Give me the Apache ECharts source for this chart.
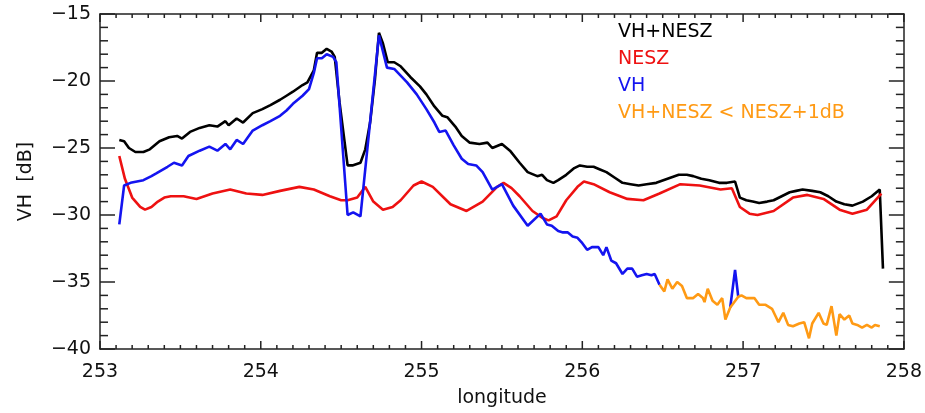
<!DOCTYPE html>
<html>
<head>
<meta charset="utf-8">
<script src="https://cdn.jsdelivr.net/npm/echarts@6/dist/echarts.min.js"></script>
<style>
html,body{margin:0;padding:0;background:#fff;}
#chart{width:925px;height:413px;}
</style>
</head>
<body>
<div id="chart"></div>
<script>
// Longitude ticks / dB ticks
const xTicks = [253, 254, 255, 256, 257, 258];
const yTicks = [-40, -35, -30, -25, -20, -15];

// Series names
const seriesNames = ['VH+NESZ', 'NESZ', 'VH', 'VH+NESZ < NESZ+1dB'];

// VH+NESZ (black) [longitude, dB]
const vhNesz = [
  [253.12,-24.4],[253.15,-24.5],[253.18,-25.0],[253.22,-25.3],[253.27,-25.3],[253.31,-25.1],
  [253.37,-24.5],[253.43,-24.2],[253.48,-24.1],[253.51,-24.3],[253.56,-23.8],[253.62,-23.5],
  [253.68,-23.3],[253.73,-23.4],[253.78,-23.0],[253.80,-23.3],[253.85,-22.8],[253.89,-23.1],
  [253.95,-22.4],[254.01,-22.1],[254.06,-21.8],[254.12,-21.4],[254.16,-21.1],[254.20,-20.8],
  [254.26,-20.3],[254.29,-20.1],[254.33,-19.2],[254.35,-17.9],[254.38,-17.9],[254.41,-17.6],
  [254.44,-17.8],[254.46,-18.2],[254.49,-21.6],[254.54,-26.3],[254.57,-26.3],[254.62,-26.1],
  [254.65,-25.1],[254.68,-23.1],[254.71,-19.9],[254.735,-16.4],[254.76,-17.2],[254.79,-18.6],
  [254.83,-18.6],[254.87,-18.9],[254.93,-19.7],[254.99,-20.4],[255.03,-21.0],[255.08,-21.9],
  [255.13,-22.6],[255.16,-22.7],[255.21,-23.4],[255.25,-24.1],[255.30,-24.6],[255.36,-24.7],
  [255.41,-24.6],[255.44,-25.0],[255.50,-24.7],[255.55,-25.2],[255.61,-26.1],[255.66,-26.8],
  [255.72,-27.1],[255.75,-27.0],[255.78,-27.4],[255.82,-27.6],[255.85,-27.4],[255.90,-27.0],
  [255.95,-26.5],[255.985,-26.3],[256.03,-26.4],[256.07,-26.4],[256.11,-26.6],[256.15,-26.8],
  [256.20,-27.2],[256.25,-27.6],[256.30,-27.7],[256.35,-27.8],[256.40,-27.7],[256.46,-27.6],
  [256.53,-27.3],[256.60,-27.0],[256.65,-27.0],[256.69,-27.1],[256.74,-27.3],[256.79,-27.4],
  [256.85,-27.6],[256.90,-27.6],[256.95,-27.5],[256.98,-28.7],[257.02,-28.9],[257.06,-29.0],
  [257.10,-29.1],[257.15,-29.0],[257.19,-28.9],[257.24,-28.6],[257.29,-28.3],[257.33,-28.2],
  [257.37,-28.1],[257.43,-28.2],[257.48,-28.3],[257.53,-28.6],[257.58,-29.0],[257.63,-29.2],
  [257.68,-29.3],[257.745,-29.0],[257.80,-28.6],[257.85,-28.1],[257.87,-34.0]
];

// NESZ (red)
const nesz = [
  [253.12,-25.6],[253.155,-27.3],[253.20,-28.7],[253.25,-29.4],[253.28,-29.6],[253.32,-29.4],
  [253.36,-29.0],[253.40,-28.7],[253.44,-28.6],[253.52,-28.6],[253.60,-28.8],[253.65,-28.6],
  [253.70,-28.4],[253.81,-28.1],[253.91,-28.4],[254.01,-28.5],[254.12,-28.2],[254.24,-27.9],
  [254.33,-28.1],[254.43,-28.6],[254.50,-28.9],[254.54,-28.9],[254.60,-28.7],[254.65,-27.9],
  [254.70,-29.0],[254.76,-29.6],[254.82,-29.4],[254.87,-28.9],[254.95,-27.8],[255.00,-27.5],
  [255.07,-27.9],[255.18,-29.2],[255.28,-29.7],[255.38,-29.0],[255.47,-27.9],[255.51,-27.6],
  [255.56,-28.0],[255.61,-28.6],[255.69,-29.7],[255.75,-30.2],[255.79,-30.4],[255.84,-30.1],
  [255.90,-28.9],[255.97,-27.9],[256.01,-27.5],[256.07,-27.7],[256.17,-28.3],[256.28,-28.8],
  [256.38,-28.9],[256.48,-28.4],[256.61,-27.7],[256.73,-27.8],[256.86,-28.1],[256.93,-28.0],
  [256.98,-29.4],[257.04,-29.9],[257.09,-30.0],[257.19,-29.7],[257.31,-28.7],[257.40,-28.5],
  [257.50,-28.8],[257.60,-29.6],[257.68,-29.9],[257.77,-29.6],[257.86,-28.4]
];

// VH (blue), up to where the orange part begins
const vh = [
  [253.12,-30.7],[253.15,-27.8],[253.19,-27.6],[253.23,-27.5],[253.27,-27.4],[253.32,-27.1],
  [253.35,-26.9],[253.42,-26.4],[253.46,-26.1],[253.51,-26.3],[253.55,-25.6],[253.62,-25.2],
  [253.68,-24.9],[253.73,-25.2],[253.78,-24.7],[253.81,-25.1],[253.85,-24.4],[253.89,-24.7],
  [253.95,-23.7],[254.01,-23.3],[254.06,-23.0],[254.12,-22.6],[254.16,-22.2],[254.20,-21.7],
  [254.26,-21.1],[254.30,-20.6],[254.33,-19.4],[254.35,-18.3],[254.38,-18.3],[254.41,-18.0],
  [254.45,-18.2],[254.47,-18.6],[254.54,-30.0],[254.575,-29.8],[254.62,-30.1],[254.735,-16.6],
  [254.785,-19.0],[254.83,-19.1],[254.91,-20.1],[254.97,-21.0],[255.03,-22.1],[255.08,-23.1],
  [255.11,-23.8],[255.15,-23.7],[255.20,-24.8],[255.25,-25.8],[255.29,-26.2],[255.34,-26.3],
  [255.38,-26.8],[255.44,-28.1],[255.50,-27.7],[255.57,-29.3],[255.66,-30.8],[255.74,-29.9],
  [255.78,-30.7],[255.81,-30.8],[255.85,-31.2],[255.88,-31.3],[255.91,-31.3],[255.94,-31.6],
  [255.97,-31.7],[256.00,-32.1],[256.03,-32.6],[256.06,-32.4],[256.10,-32.4],[256.13,-33.0],
  [256.15,-32.4],[256.18,-33.4],[256.21,-33.6],[256.25,-34.4],[256.28,-34.0],[256.31,-34.0],
  [256.34,-34.6],[256.37,-34.5],[256.40,-34.4],[256.43,-34.5],[256.45,-34.4],[256.48,-35.2]
];

// VH spike inside the orange region (blue)
const vhSpike = [[256.92,-36.9],[256.95,-34.1],[256.97,-36.1]];

// VH+NESZ < NESZ+1dB (orange)
const vhLow = [
  [256.48,-35.2],[256.51,-35.7],[256.53,-34.8],[256.56,-35.5],[256.59,-35.0],[256.62,-35.3],
  [256.65,-36.2],[256.69,-36.2],[256.72,-35.9],[256.75,-36.2],[256.76,-36.5],[256.78,-35.5],
  [256.81,-36.4],[256.84,-36.7],[256.87,-36.2],[256.89,-37.8],[256.92,-36.9],[256.97,-36.1],
  [256.99,-36.0],[257.02,-36.2],[257.07,-36.2],[257.10,-36.7],[257.14,-36.7],[257.18,-37.0],
  [257.22,-38.0],[257.25,-37.3],[257.28,-38.2],[257.31,-38.3],[257.35,-38.1],[257.38,-38.0],
  [257.41,-39.2],[257.43,-38.1],[257.47,-37.3],[257.50,-38.1],[257.52,-38.2],[257.55,-36.8],
  [257.58,-39.0],[257.60,-37.4],[257.63,-37.8],[257.66,-37.5],[257.68,-38.1],[257.71,-38.2],
  [257.74,-38.4],[257.77,-38.2],[257.80,-38.4],[257.82,-38.2],[257.85,-38.3]
];

const colors = ['#000000', '#ee1111', '#1414f0', '#ff9a14'];
const FONT = 'DejaVu Sans';
const AX = '#222';

// Frame ticks (IDL style, inside, on all four sides), placed through the axis scales
function renderFrameTicks(params, api) {
  if (params.dataIndex !== 0) return null;
  const x0 = xTicks[0], x1 = xTicks[xTicks.length - 1];
  const y0 = yTicks[0], y1 = yTicks[yTicks.length - 1];
  const bl = api.coord([x0, y0]);
  const tr = api.coord([x1, y1]);
  const st = { stroke: AX, lineWidth: 1.5 };
  const ch = [];
  const nx = Math.round((x1 - x0) * 10);
  for (let i = 0; i <= nx; i++) {
    const px = api.coord([x0 + i / 10, y0])[0];
    const L = (i % 10 === 0) ? 8 : 4;
    ch.push({ type: 'line', shape: { x1: px, y1: bl[1], x2: px, y2: bl[1] - L }, style: st });
    ch.push({ type: 'line', shape: { x1: px, y1: tr[1], x2: px, y2: tr[1] + L }, style: st });
  }
  const ny = Math.round(y1 - y0);
  for (let j = 0; j <= ny; j++) {
    const py = api.coord([x0, y0 + j])[1];
    const L = (j % 5 === 0) ? 15 : 8;
    ch.push({ type: 'line', shape: { x1: bl[0], y1: py, x2: bl[0] + L, y2: py }, style: st });
    ch.push({ type: 'line', shape: { x1: tr[0], y1: py, x2: tr[0] - L, y2: py }, style: st });
  }
  return { type: 'group', children: ch };
}

const chart = echarts.init(document.getElementById('chart'));
chart.setOption({
  animation: false,
  grid: { left: 100, right: 21, top: 14, bottom: 62 },
  xAxis: [
    {
      type: 'value', min: 253, max: 258, interval: 1,
      axisLine: { show: true, lineStyle: { color: AX, width: 1.5 } },
      axisTick: { show: false },
      splitLine: { show: false },
      axisLabel: { color: '#111', fontFamily: FONT, fontSize: 19, margin: 14 },
      name: 'longitude', nameLocation: 'middle', nameGap: 40,
      nameTextStyle: { color: '#111', fontFamily: FONT, fontSize: 19 }
    },
    {
      type: 'value', position: 'top', min: 253, max: 258, interval: 1,
      axisLine: { show: true, lineStyle: { color: AX, width: 1.5 } },
      axisTick: { show: false },
      axisLabel: { show: false },
      splitLine: { show: false }
    }
  ],
  yAxis: [
    {
      type: 'value', min: -40, max: -15, interval: 5,
      axisLine: { show: true, lineStyle: { color: AX, width: 1.5 } },
      axisTick: { show: false },
      splitLine: { show: false },
      axisLabel: { color: '#111', fontFamily: FONT, fontSize: 19, margin: 9,
        formatter: v => String(v).replace('-', '\u2212') },
      name: 'VH  [dB]', nameLocation: 'middle', nameGap: 64, nameRotate: 90,
      nameTextStyle: { color: '#111', fontFamily: FONT, fontSize: 19 }
    },
    {
      type: 'value', position: 'right', min: -40, max: -15, interval: 5,
      axisLine: { show: true, lineStyle: { color: AX, width: 1.5 } },
      axisTick: { show: false },
      axisLabel: { show: false },
      splitLine: { show: false }
    }
  ],
  legend: {
    orient: 'vertical', left: 613, top: 23, padding: 0, itemGap: 8,
    icon: 'none', itemWidth: 0, itemHeight: 0, selectedMode: false,
    textStyle: { fontFamily: FONT, fontSize: 19, padding: 0 },
    data: seriesNames.map((n, i) => ({ name: n, textStyle: { color: colors[i] } }))
  },
  series: [
    { name: seriesNames[0], type: 'line', data: vhNesz, symbol: 'none', color: colors[0], lineStyle: { width: 2.6 } },
    { name: seriesNames[1], type: 'line', data: nesz, symbol: 'none', color: colors[1], lineStyle: { width: 2.6 } },
    { name: seriesNames[2], type: 'line', data: vh, symbol: 'none', color: colors[2], lineStyle: { width: 2.6 } },
    { name: seriesNames[2], type: 'line', data: vhSpike, symbol: 'none', color: colors[2], lineStyle: { width: 2.6 } },
    { name: seriesNames[3], type: 'line', data: vhLow, symbol: 'none', color: colors[3], lineStyle: { width: 2.6 } },
    {
      type: 'custom', silent: true, clip: false, z: 10,
      data: [[xTicks[0], yTicks[0]]],
      encode: { x: 0, y: 1 },
      renderItem: renderFrameTicks
    }
  ]
});
</script>
</body>
</html>
